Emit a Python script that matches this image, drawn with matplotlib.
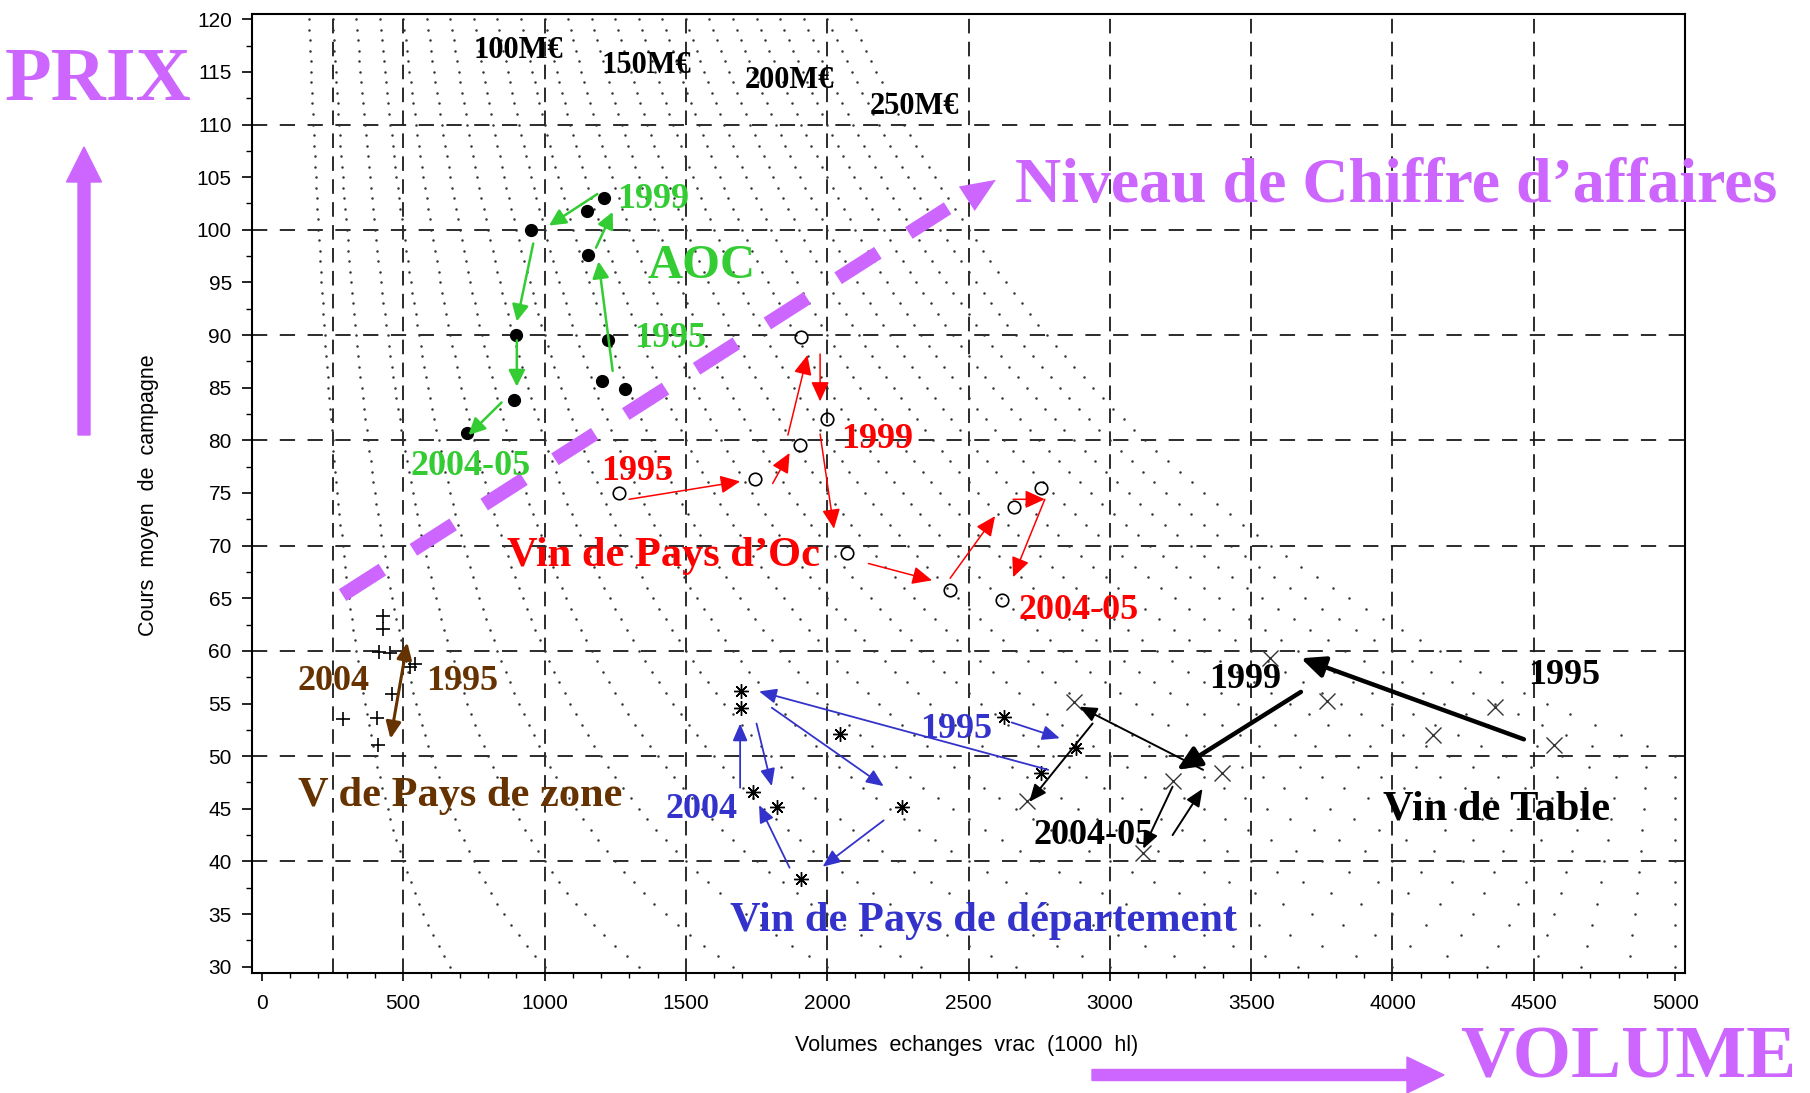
import numpy as np
import matplotlib
matplotlib.use('Agg')
import matplotlib.pyplot as plt
from matplotlib.patches import FancyArrow
from matplotlib.transforms import IdentityTransform
from matplotlib.ticker import MultipleLocator

plt.rcParams['font.family'] = 'Liberation Sans'
plt.rcParams['lines.scale_dashes'] = False

PURPLE = '#CC66FF'
GREEN = '#33CC33'
RED = '#FF0000'
BLUE = '#3333CC'
BROWN = '#663300'
SERIF = 'Liberation Serif'

# volumes (1000 hl) and prices
aoc_x = [953, 1149, 1212, 1155, 1226, 899, 1205, 1286, 893, 725]
aoc_y = [100.0, 101.8, 103.0, 97.6, 89.5, 90.0, 85.6, 84.9, 83.8, 80.7]

oc_x = [1263, 1746, 1903, 1908, 1998, 2071, 2435, 2661, 2755, 2619]
oc_y = [75.0, 76.3, 79.6, 89.8, 82.0, 69.3, 65.8, 73.7, 75.5, 64.8]

zone_x = [428, 428, 415, 455, 524, 542, 286, 406, 412, 460]
zone_y = [63.3, 62.1, 59.9, 59.8, 58.5, 58.8, 53.5, 53.6, 51.1, 55.9]

dep_x = [1695, 1695, 2047, 1737, 1822, 2263, 1908, 2624, 2881, 2756]
dep_y = [56.2, 54.6, 52.1, 46.6, 45.2, 45.2, 38.3, 53.7, 50.8, 48.4]

table_x = [3567, 3768, 4144, 4364, 4571, 2872, 2707, 3222, 3398, 3119]
table_y = [59.3, 55.2, 52.0, 54.65, 51.05, 55.1, 45.75, 47.6, 48.4, 40.8]

# iso chiffre d'affaires curves (M EUR), dotted at each price unit
ca_levels = list(range(20, 260, 10))
price_steps = np.arange(30, 121)

# arrows: (x start, y start, x end, y end)
green_arrows = [(1187, 103.4, 1016, 100.4), (960, 98.7, 902, 91.3),
                (902, 89.5, 902, 85.1), (848, 83.6, 731, 80.5),
                (1241, 86.6, 1191, 97.0), (1182, 98.3, 1241, 101.7)]
red_arrows = [(1299, 74.4, 1692, 76.1), (1807, 75.9, 1867, 78.8),
              (1861, 80.5, 1930, 88.1), (1975, 88.2, 1975, 83.7),
              (1975, 80.6, 2024, 71.6), (2146, 68.3, 2371, 66.7),
              (2435, 66.9, 2594, 72.8), (2658, 74.4, 2770, 74.4),
              (2770, 74.4, 2658, 67.0)]
blue_arrows = [(1692, 47.0, 1692, 53.1), (1750, 53.1, 1804, 47.15),
               (1867, 39.4, 1759, 45.35), (2200, 43.9, 1984, 39.5),
               (1804, 54.6, 2200, 47.15), (2782, 48.7, 1759, 56.15),
               (2653, 53.2, 2823, 51.7)]
black_arrows = [(3330, 48.7, 2892, 54.7), (2939, 53.1, 2715, 45.65),
                (3222, 47.1, 3118, 41.2), (3222, 42.5, 3328, 46.9)]
black_thick = [(4465, 51.6, 3676, 59.3), (3676, 56.1, 3237, 48.7)]
brown_arrow = (455, 51.65, 514.5, 60.8)
trend_line = (285.5, 65.3, 2426, 102.05)
trend_head = (2491, 102.9, 2597, 104.75)

# labels: text, colour, x centre, baseline y, size
labels = [
    ('100M€', 'black', 908, 116.3, 22), ('150M€', 'black', 1360, 114.9, 22),
    ('200M€', 'black', 1867, 113.5, 22), ('250M€', 'black', 2309, 111.0, 22),
    ('1999', GREEN, 1385, 102.06, 26), ('AOC', GREEN, 1556, 95.4, 35),
    ('1995', GREEN, 1443, 88.9, 26), ('2004-05', GREEN, 740, 76.7, 26),
    ('1995', RED, 1329, 76.2, 26), ('1999', RED, 2178, 79.25, 26),
    ('Vin de Pays d’Oc', RED, 1421, 68.03, 30.5), ('2004-05', RED, 2888, 63.05, 26),
    ('2004', BROWN, 254, 56.33, 26), ('1995', BROWN, 707, 56.33, 26),
    ('V de Pays de zone', BROWN, 702, 45.24, 30.5),
    ('1995', BLUE, 2458, 51.75, 26), ('2004', BLUE, 1554, 44.16, 26),
    ('Vin de Pays de département', BLUE, 2552, 33.4, 30.5),
    ('1999', 'black', 3477, 56.5, 26), ('1995', 'black', 4608, 56.9, 26),
    ('Vin de Table', 'black', 4369, 44.0, 30.5), ('2004-05', 'black', 2941, 41.7, 26),
]

grid_x = [250, 500, 1000, 1500, 2000, 2500, 3000, 3500, 4000, 4500]
grid_y = [40, 50, 60, 70, 80, 90, 100, 110]


def arrow(seg, color, lw, hl, hw, style='-|>'):
    x0, y0, x1, y1 = seg
    ax.annotate('', xy=(x1, y1), xytext=(x0, y0), zorder=4,
                arrowprops=dict(arrowstyle=f'{style},head_length={hl},head_width={hw}',
                                color=color, lw=lw, shrinkA=0, shrinkB=0,
                                mutation_scale=10))


fig = plt.figure(figsize=(18.10, 10.93), dpi=100)
ax = fig.add_axes([252 / 1810, 1 - 973 / 1093, 1433 / 1810, 959 / 1093])
ax.set_xlim(-35, 5035)
ax.set_ylim(29.4, 120.5)

for gx in grid_x:
    ax.axvline(gx, color='#1a1a1a', lw=1.3, dashes=(10.5, 6), zorder=1)
for gy in grid_y:
    ax.axhline(gy, color='#1a1a1a', lw=1.3, dashes=(11, 9), zorder=1)

for k in ca_levels:
    xs = k * 1000.0 / price_steps
    keep = xs < 5035
    ax.plot(xs[keep], price_steps[keep], ls='none', marker='o', ms=1.8,
            mew=0, color='#333333', zorder=1.5)

# big purple trend arrow
tx0, ty0, tx1, ty1 = trend_line
ax.plot([tx0, tx1], [ty0, ty1], color=PURPLE, lw=10, dashes=(34, 26.5),
        dash_capstyle='butt', zorder=2)
hx0, hy0, hx1, hy1 = trend_head
ax.annotate('', xy=(hx1, hy1), xytext=(hx0, hy0), zorder=2,
            arrowprops=dict(arrowstyle='-|>,head_length=2.5,head_width=1.05',
                            color=PURPLE, lw=0, shrinkA=0, shrinkB=0,
                            mutation_scale=10))

ax.plot(aoc_x, aoc_y, ls='none', marker='o', ms=8.5, color='black', zorder=3)
ax.plot(oc_x, oc_y, ls='none', marker='o', ms=9, mfc='none', mec='black',
        mew=1.2, zorder=3)
ax.plot(zone_x, zone_y, ls='none', marker='+', ms=10, mec='black', mew=1.2, zorder=3)
ax.plot(dep_x, dep_y, ls='none', marker=(8, 2, 0), ms=10.5, mec='black', mew=1.0, zorder=3)
ax.plot(table_x, table_y, ls='none', marker='x', ms=11, mec='#333333', mew=1.0, zorder=3)

for seg in green_arrows:
    arrow(seg, GREEN, 1.8, 1.0, 0.5)
for seg in red_arrows:
    arrow(seg, RED, 1.1, 1.2, 0.55)
for seg in blue_arrows:
    arrow(seg, BLUE, 1.3, 1.05, 0.45)
for seg in black_arrows:
    arrow(seg, 'black', 1.4, 1.05, 0.45)
for seg in black_thick:
    arrow(seg, 'black', 3.2, 1.45, 0.65)
arrow(brown_arrow, BROWN, 2.2, 1.0, 0.45, style='<|-|>')

for txt, col, x, y, size in labels:
    ax.text(x, y, txt, color=col, fontsize=size, family=SERIF, weight='bold',
            ha='center', va='baseline', zorder=5)

ax.xaxis.set_major_locator(MultipleLocator(500))
ax.xaxis.set_minor_locator(MultipleLocator(100))
ax.yaxis.set_major_locator(MultipleLocator(5))
ax.yaxis.set_minor_locator(MultipleLocator(2.5))
ax.tick_params(which='both', direction='out', labelsize=15, colors='black')
ax.tick_params(axis='y', which='major', length=7.5, width=1.2, pad=7)
ax.tick_params(axis='y', which='minor', length=4, width=1.0)
ax.tick_params(axis='x', which='major', length=6, width=1.2, pad=9)
ax.tick_params(axis='x', which='minor', length=3.5, width=1.0)
for sp in ax.spines.values():
    sp.set_linewidth(1.5)

ax.set_xlabel('Volumes  echanges  vrac  (1000  hl)', fontsize=15.5)
ax.set_ylabel('Cours  moyen  de  campagne', fontsize=15.5)
ax.xaxis.set_label_coords(0.499, -0.0647)
ax.yaxis.set_label_coords(-0.0652, 0.498)

# purple words and arrows around the frame
fig.text(98 / 1810, 1 - 100.3 / 1093, 'PRIX', ha='center', va='baseline',
         fontsize=55, family=SERIF, weight='bold', color=PURPLE)
fig.text(1628 / 1810, 1 - 1078 / 1093, 'VOLUME', ha='center', va='baseline',
         fontsize=54, family=SERIF, weight='bold', color=PURPLE)
fig.text(1396.5 / 1810, 1 - 201.7 / 1093, 'Niveau de Chiffre d’affaires',
         ha='center', va='baseline', fontsize=46, family=SERIF, weight='bold',
         color=PURPLE)
fig.add_artist(FancyArrow(84, 1093 - 435, 0, 288, width=12, head_width=35,
                          head_length=35, length_includes_head=True,
                          color=PURPLE, transform=IdentityTransform()))
fig.add_artist(FancyArrow(1092, 1093 - 1075, 352, 0, width=11, head_width=36,
                          head_length=37, length_includes_head=True,
                          color=PURPLE, transform=IdentityTransform()))

fig.savefig('out.png', dpi=100)
